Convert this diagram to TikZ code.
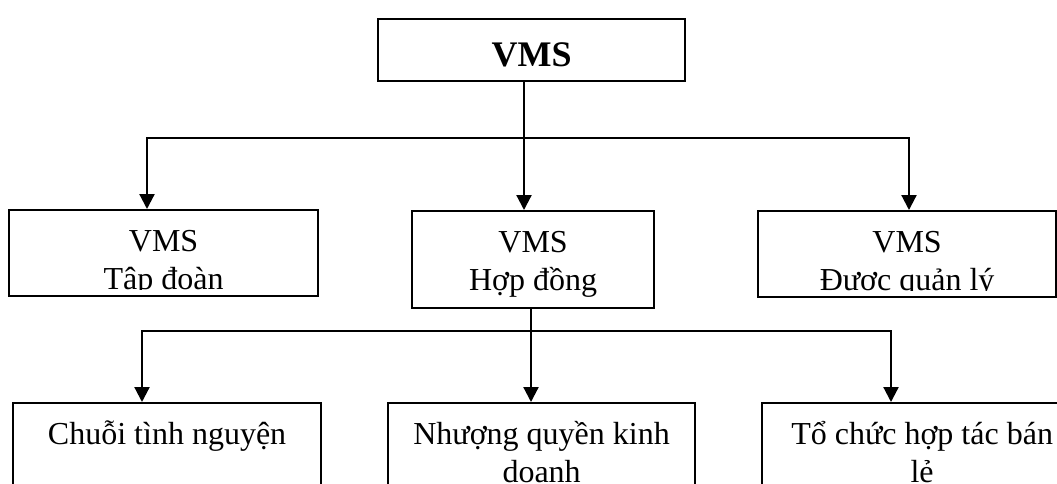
\documentclass[tikz,border=0pt]{standalone}
\usepackage{fontspec}
\setmainfont{Liberation Serif}
\usetikzlibrary{arrows.meta,calc}
\begin{document}
\begin{tikzpicture}[x=1pt,y=-1pt,
  box/.style={draw, line width=2.2pt, rectangle, inner sep=0pt, anchor=north west},
  arr/.style={line width=2.2pt, -{Triangle[length=15pt,width=15pt]}},
  two/.style 2 args={path picture={
    \clip (path picture bounding box.north west) rectangle ([yshift=7pt]path picture bounding box.south east);
    \node[anchor=base, inner sep=0pt] at ([yshift=-41pt]path picture bounding box.north) {#1};
    \node[anchor=base, inner sep=0pt] at ([yshift=-79pt]path picture bounding box.north) {#2};}},
  toplbl/.style={path picture={
    \node[anchor=base, inner sep=0pt, font=\fontsize{36}{40}\selectfont\bfseries] at ([yshift=-47pt]path picture bounding box.north) {#1};}},
  font=\fontsize{32}{37}\selectfont]
\useasboundingbox (0,0) rectangle (1057,483);

\node[box, minimum width=307pt, minimum height=62pt, toplbl={VMS}] (top) at (377,18) {};

\node[box, minimum width=309pt, minimum height=86pt, two={VMS}{Tập đoàn}] (l1) at (8,209) {};
\node[box, minimum width=242pt, minimum height=97pt, two={VMS}{Hợp đồng}] (c1) at (411,210) {};
\node[box, minimum width=298pt, minimum height=86pt, two={VMS}{Được quản lý}] (r1) at (757,210) {};

\node[box, minimum width=308pt, minimum height=110pt, two={Chuỗi tình nguyện}{}] (l2) at (12,402) {};
\node[box, minimum width=307pt, minimum height=110pt, two={Nhượng quyền kinh}{doanh}] (c2) at (387,402) {};
\node[box, minimum width=320pt, minimum height=110pt, two={Tổ chức hợp tác bán}{lẻ}] (r2) at (761,402) {};

\coordinate (ta) at (147,138);
\coordinate (tm) at (524,138);
\coordinate (tb) at (909,138);
\coordinate (ba) at (142,331);
\coordinate (bm) at (531,331);
\coordinate (bb) at (891,331);

\draw[arr] (top.south -| tm) -- (c1.north -| tm);
\draw[arr] (tm) -| (l1.north -| ta);
\draw[arr] (tm) -| (r1.north -| tb);

\draw[arr] (c1.south -| bm) -- (c2.north -| bm);
\draw[arr] (bm) -| (l2.north -| ba);
\draw[arr] (bm) -| (r2.north -| bb);
\end{tikzpicture}
\end{document}
